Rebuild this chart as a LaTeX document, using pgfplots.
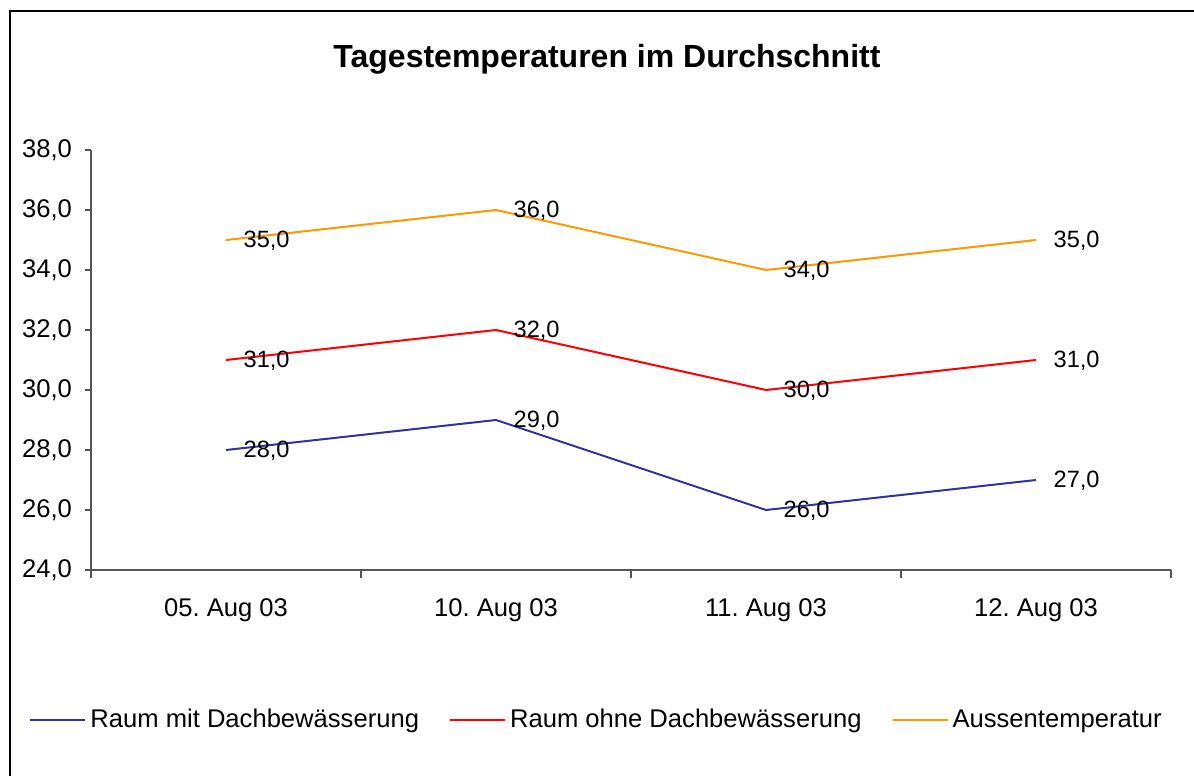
\documentclass[border=0pt]{standalone}
\usepackage{pgfplots}
\pgfplotsset{compat=1.18}
\usepackage{fontspec}
\setmainfont{Liberation Sans}
\frenchspacing
\definecolor{cblue}{HTML}{333399}
\definecolor{cred}{HTML}{FF0000}
\definecolor{corange}{HTML}{FF9900}
\definecolor{axgray}{HTML}{555555}
\begin{document}
\begin{tikzpicture}
\useasboundingbox (0,0) rectangle (597pt,388pt);
\draw[black, line width=0.6pt] (5pt,0) -- (5pt,382.5pt) -- (597pt,382.5pt);
\node[font=\fontsize{16}{19}\selectfont\bfseries] at (303.5pt,358.5pt) {Tagestemperaturen im Durchschnitt};
\begin{axis}[
  at={(45.5pt,103pt)}, anchor=south west,
  scale only axis, width=540pt, height=210pt,
  xmin=-0.5, xmax=3.5, ymin=24, ymax=38,
  axis x line*=bottom, axis y line*=left,
  axis line style={axgray, line width=0.6pt, -},
  xtick={0,1,2,3},
  xticklabels={05. Aug 03, 10. Aug 03, 11. Aug 03, 12. Aug 03},
  minor xtick={-0.5,0.5,1.5,2.5,3.5},
  major x tick style={draw=none},
  minor x tick style={axgray, line width=0.6pt},
  minor tick length=4pt,
  ytick={24,26,...,38},
  y tick style={axgray, line width=0.6pt},
  major tick length=3pt,
  tick align=outside,
  xticklabel style={yshift=-8pt},
  yticklabel style={xshift=-3pt},
  tick label style={font=\fontsize{12.8}{15}\selectfont},
  /pgf/number format/use comma,
  /pgf/number format/fixed,
  /pgf/number format/fixed zerofill,
  /pgf/number format/precision=1,
  /pgf/number format/assume math mode=true,
  nodes near coords,
  nodes near coords align={anchor=west},
  every node near coord/.append style={font=\fontsize{11.8}{14}\selectfont, black, xshift=5pt, yshift=-0.6pt},
  legend columns=3,
  legend style={at={(-0.0574,-0.357)}, anchor=west, draw=none, fill=none,
    font=\fontsize{12.8}{15}\selectfont, inner sep=0pt,
    /tikz/every even column/.append style={column sep=13pt}},
  legend image code/.code={\draw[#1] (0pt,0pt) -- (27.5pt,0pt);},
  legend cell align=left,
]
\addplot[cblue, line width=1pt, mark=none] coordinates {(0,28) (1,29) (2,26) (3,27)};
\addlegendentry{Raum mit Dachbewässerung}
\addplot[cred, line width=1pt, mark=none] coordinates {(0,31) (1,32) (2,30) (3,31)};
\addlegendentry{Raum ohne Dachbewässerung}
\addplot[corange, line width=1pt, mark=none] coordinates {(0,35) (1,36) (2,34) (3,35)};
\addlegendentry{Aussentemperatur}
\end{axis}
\end{tikzpicture}
\end{document}
